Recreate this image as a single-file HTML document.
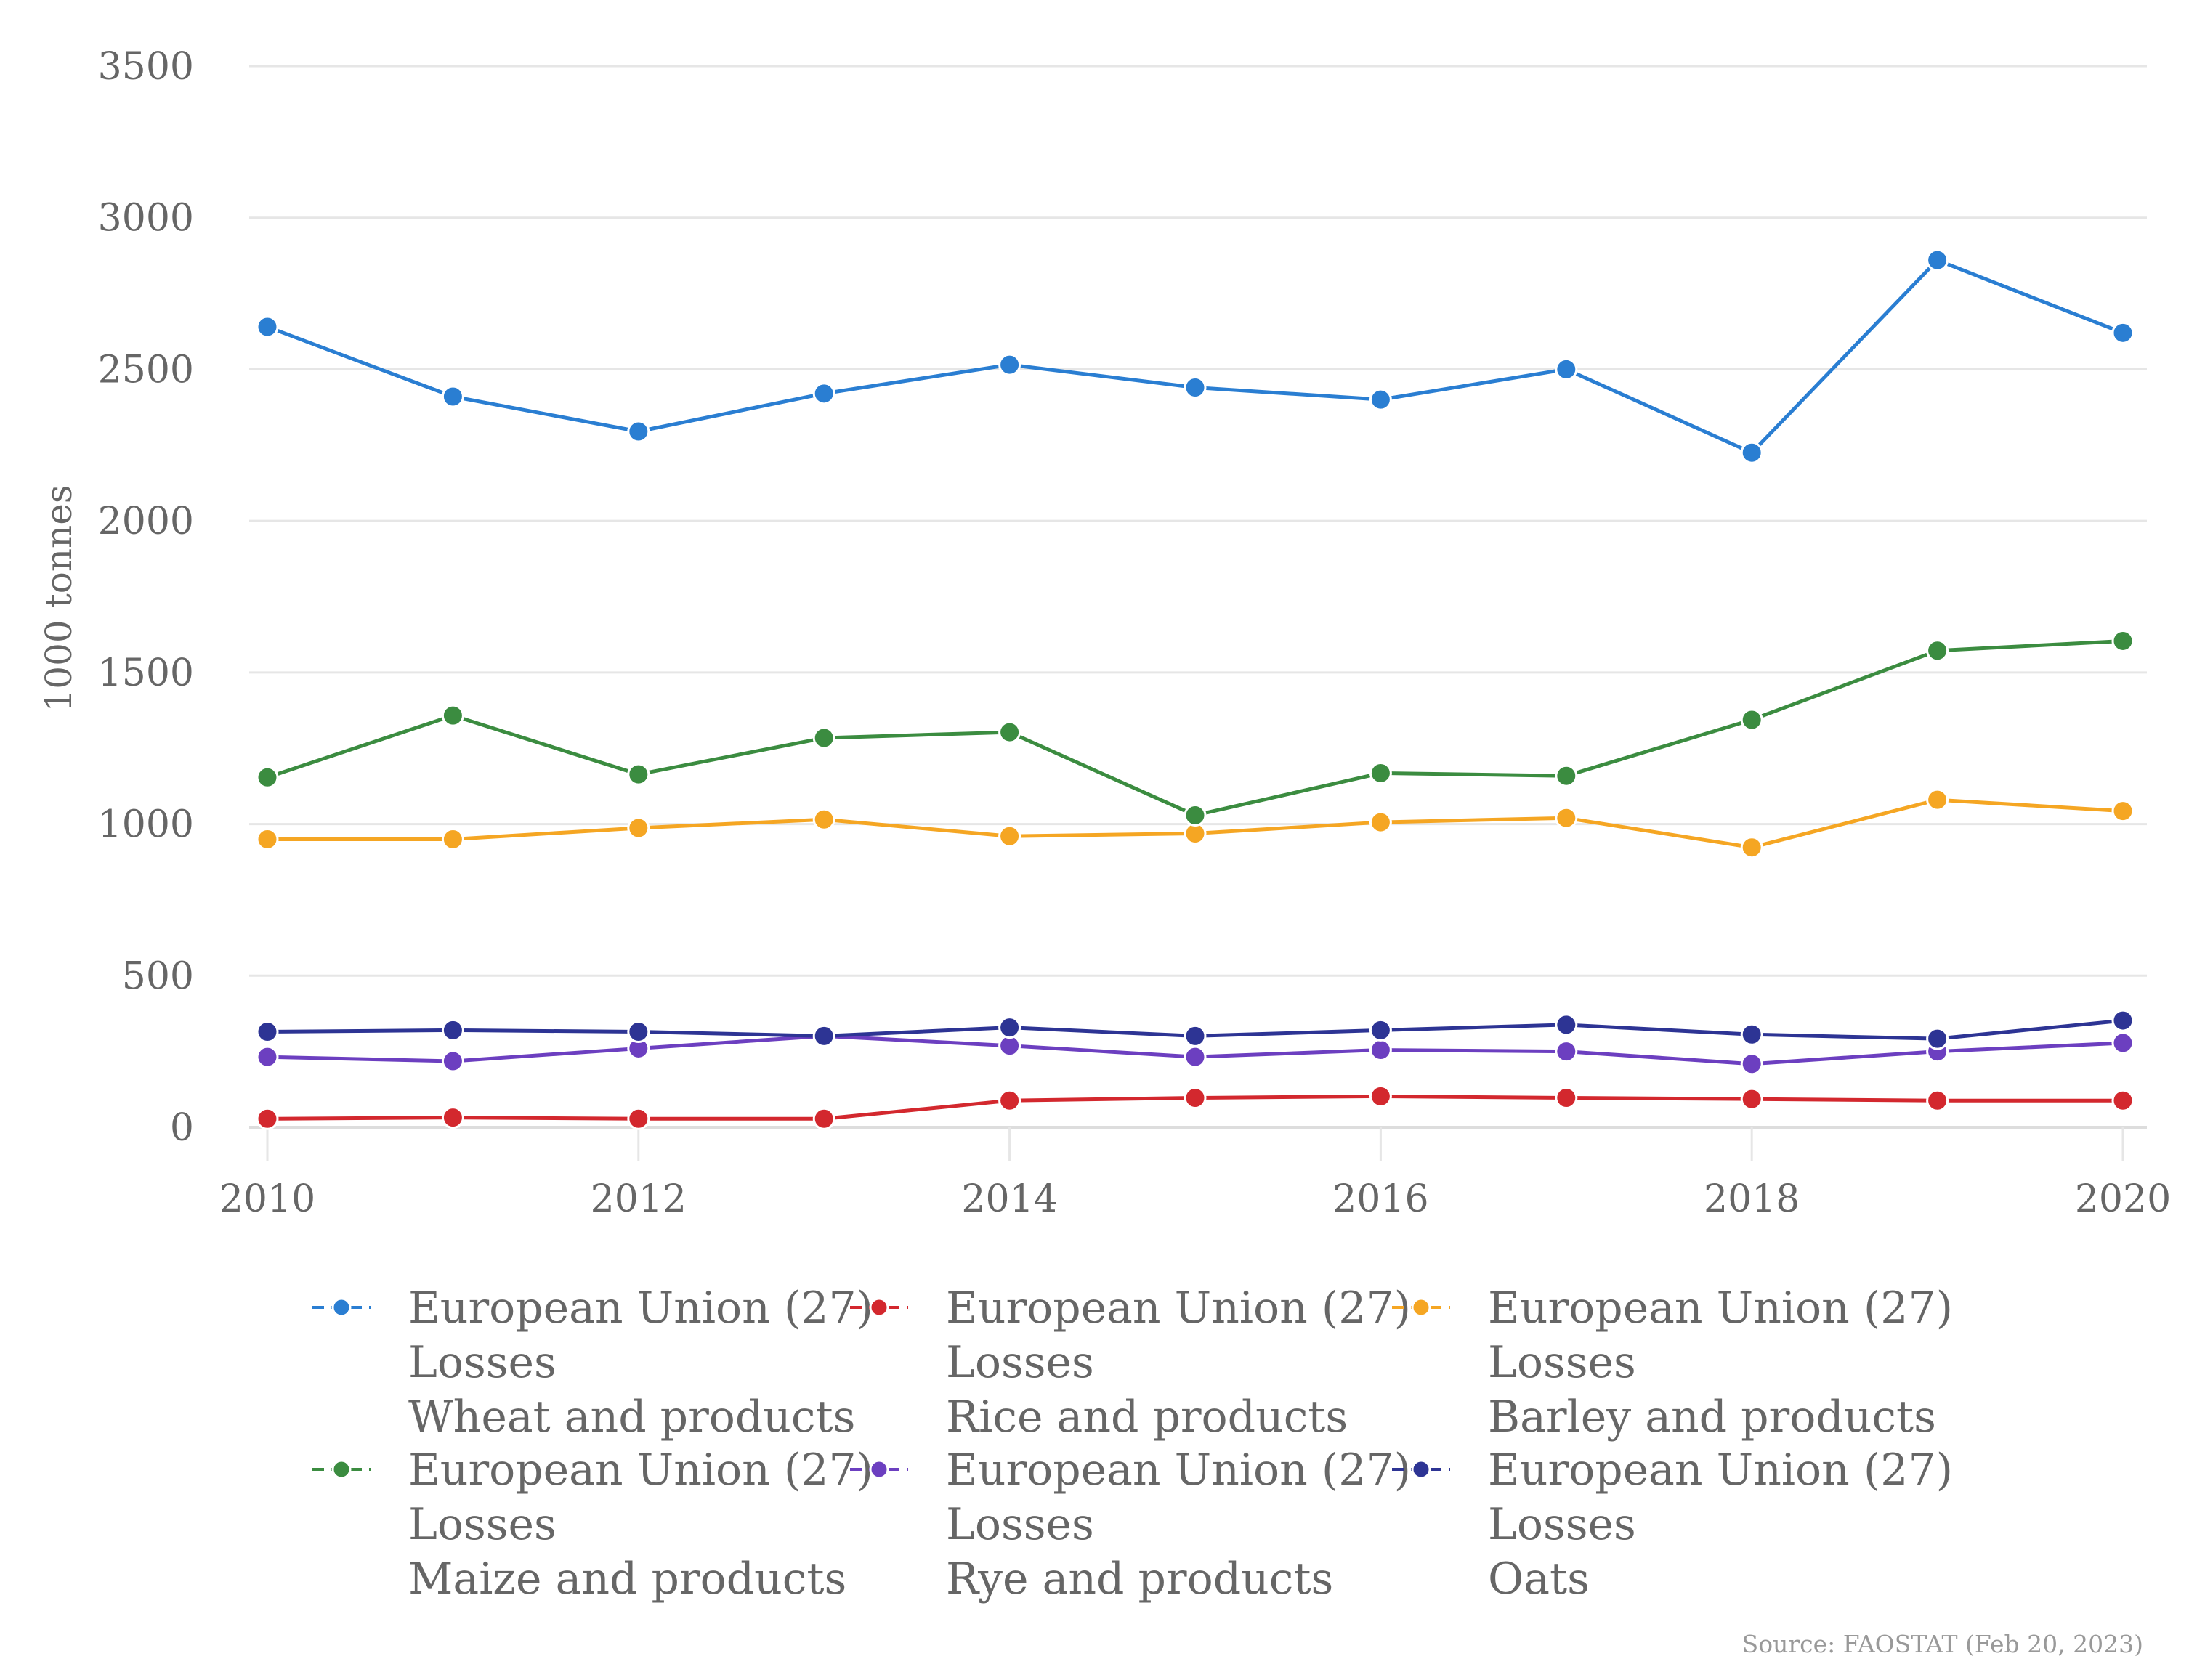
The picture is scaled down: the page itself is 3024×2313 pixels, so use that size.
<!DOCTYPE html>
<html><head><meta charset="utf-8"><style>
html,body{margin:0;padding:0;background:#fff;}
svg{display:block;font-family:"DejaVu Serif","Liberation Serif",serif;}
</style></head><body>
<svg id="chart" width="3024" height="2313" viewBox="0 0 3024 2313" xmlns="http://www.w3.org/2000/svg">
<rect width="3024" height="2313" fill="#fff"/>
<g id="grid"></g><g id="series"></g><g id="legend"></g>
<text x="0" y="0" transform="translate(98,824) rotate(-90)" text-anchor="middle" font-size="50" fill="#666">1000 tonnes</text>
<text x="2950" y="2275" text-anchor="end" font-size="33" fill="#999">Source: FAOSTAT (Feb 20, 2023)</text>
</svg>
<script>
const years=[2010,2011,2012,2013,2014,2015,2016,2017,2018,2019,2020];
const yTicks=[0,500,1000,1500,2000,2500,3000,3500];
const xTicks=[2010,2012,2014,2016,2018,2020];
const wheat=[2640,2410,2295,2420,2515,2440,2400,2500,2225,2860,2620];
const rice=[28,32,28,28,88,97,102,97,93,88,88];
const barley=[950,950,987,1015,960,969,1006,1020,923,1080,1043];
const maize=[1154,1358,1164,1284,1303,1029,1168,1159,1344,1572,1604];
const rye=[232,218,260,301,269,232,255,250,209,250,278];
const oats=[315,320,315,301,329,301,320,338,306,292,352];
const seriesNames=["wheat","rice","barley","maize","rye","oats"];
const seriesData=[wheat,rice,barley,maize,rye,oats];
const seriesColors=["#2a7ed2","#d3282e","#f5a623","#3b8c40","#6c3fc0","#2d3494"];
const legendLine3=["Wheat and products","Rice and products","Barley and products","Maize and products","Rye and products","Oats"];
const NS="http://www.w3.org/2000/svg";
const X=v=>368+(v-2010)*(2922-368)/10;
const Y=v=>1552-v*(1552-91)/3500;
function el(t,a,p){const e=document.createElementNS(NS,t);for(const k in a)e.setAttribute(k,a[k]);p.appendChild(e);return e;}
const grid=document.getElementById('grid');
yTicks.forEach(t=>{
  const l=el('line',{x1:343,x2:2955,y1:Y(t),y2:Y(t),stroke:t===0?'#ddd':'#e6e6e6','stroke-width':t===0?4:3},grid);
  
  
  const tx=el('text',{x:267,y:Y(t)+18,'text-anchor':'end','font-size':52,fill:'#666'},grid);
  tx.textContent=t;
  
  
});
xTicks.forEach(t=>{
  const l=el('line',{x1:X(t),x2:X(t),y1:1552,y2:1598,stroke:'#e6e6e6','stroke-width':3},grid);
  
  
  const tx=el('text',{x:X(t),y:1668,'text-anchor':'middle','font-size':52,fill:'#666'},grid);
  tx.textContent=t;
  
  
});
const sg=document.getElementById('series');
seriesData.forEach((d,i)=>{
  const g=el('g',{},sg);
  
  
  const p=el('polyline',{points:d.map((v,j)=>X(years[j])+','+Y(v)).join(' '),fill:'none',stroke:seriesColors[i],'stroke-width':5},g);
  
  
  d.forEach((v,j)=>{
    const c=el('circle',{cx:X(years[j]),cy:Y(v),r:14,fill:seriesColors[i],stroke:'#fff','stroke-width':3},g);
    
    
  });
});
const lg=document.getElementById('legend');
const colX=[430,1170,1916];
const rowY=[1800,2023];
seriesNames.forEach((n,i)=>{
  const cx=colX[i%3], cy=rowY[Math.floor(i/3)];
  const g=el('g',{},lg);
  
  
  el('line',{x1:cx,x2:cx+80,y1:cy,y2:cy,stroke:seriesColors[i],'stroke-width':4,'stroke-dasharray':'16,10'},g);
  el('circle',{cx:cx+40,cy:cy,r:12,fill:seriesColors[i],stroke:'#fff','stroke-width':3},g);
  ["European Union (27)","Losses",legendLine3[i]].forEach((s,k)=>{
    const t=el('text',{x:cx+132,y:cy+21+k*75,'font-size':60,fill:'#666'},g);
    t.textContent=s;
  });
});
</script>
</body></html>
